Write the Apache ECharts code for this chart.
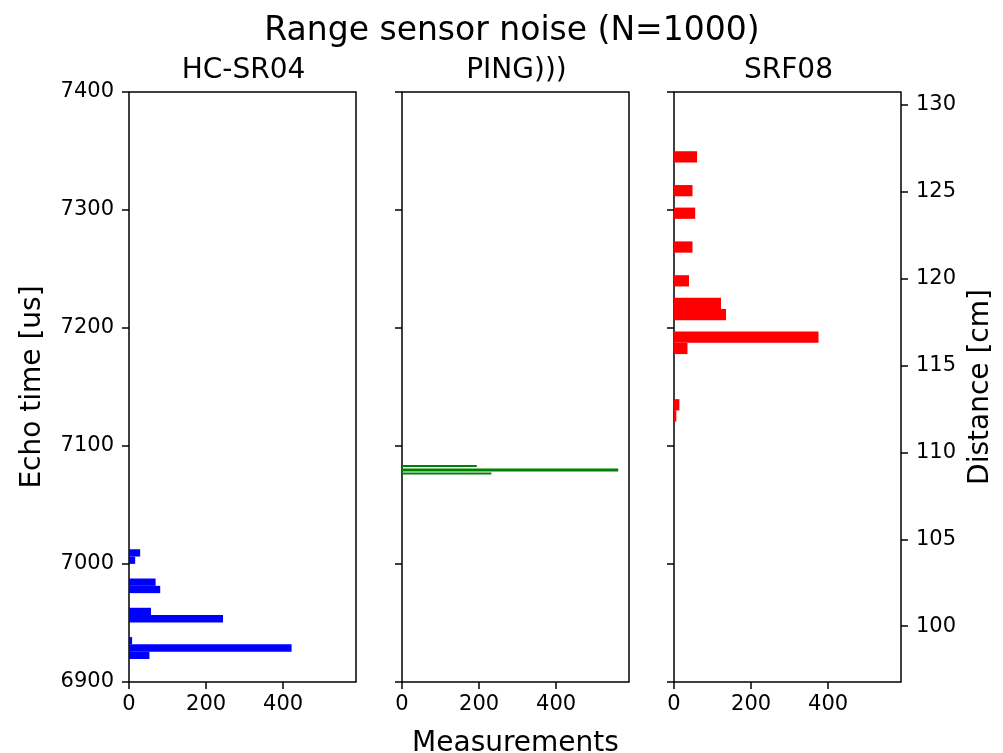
<!DOCTYPE html>
<html>
<head>
<meta charset="utf-8">
<script src="https://cdn.jsdelivr.net/npm/echarts@6/dist/echarts.min.js"></script>
<style>html,body{margin:0;padding:0;background:#fff}#c{width:1003px;height:753px}</style>
</head>
<body>
<div id="c"></div>
<script>
// ---- data ----
const title = 'Range sensor noise (N=1000)';
const panelTitles = ['HC-SR04', 'PING)))', 'SRF08'];
const colors = ['#0000ff', '#008000', '#ff0000'];

// HC-SR04 histogram: bin lower edge, upper edge [us], count
const hcLo = [6919.5, 6925.7, 6931.9, 6950.5, 6956.7, 6975.3, 6981.5, 7000.1, 7006.3];
const hcHi = [6925.7, 6931.9, 6938.1, 6956.7, 6962.9, 6981.5, 6987.7, 7006.3, 7012.5];
const hcCount = [53, 422, 8, 244, 57, 81, 69, 16, 29];

// PING))) histogram
const pingLo = [7075.8, 7078.4, 7082.2];
const pingHi = [7077.5, 7080.9, 7083.9];
const pingCount = [232, 561, 194];

// SRF08 histogram
const srfLo = [7120.6, 7130.15, 7177.9, 7187.45, 7206.55, 7216.1, 7235.2, 7263.85, 7292.5, 7311.6, 7340.25];
const srfHi = [7130.15, 7139.7, 7187.45, 7197.0, 7216.1, 7225.65, 7244.75, 7273.4, 7302.05, 7321.15, 7349.8];
const srfCount = [6, 14, 35, 375, 135, 122, 39, 48, 55, 48, 60];

const echoTicks = [6900, 7000, 7100, 7200, 7300, 7400];
const countTicks = [0, 200, 400];
const distTicks = [100, 105, 110, 115, 120, 125, 130];
const echoMin = 6900, echoMax = 7400;
const distMin = 96.79, distMax = 130.74;

// ---- chart ----
const panels = [[hcLo, hcHi, hcCount], [pingLo, pingHi, pingCount], [srfLo, srfHi, srfCount]];
const allCounts = hcCount.concat(pingCount, srfCount);
const xMax = Math.max.apply(null, allCounts) * 1.05;

const FONT = 'DejaVu Sans';
const lefts = [129, 402, 674];
const W = 227, TOP = 92, H = 590;

const grids = lefts.map(l => ({left: l, top: TOP, width: W, height: H, show: true,
  borderColor: '#000', borderWidth: 1.5, backgroundColor: 'transparent',
  containLabel: false, outerBoundsMode: 'none'}));

const plain = v => String(v);

const xAxes = lefts.map((l, i) => ({
  type: 'value', gridIndex: i, min: 0, max: xMax,
  axisLine: {show: false},
  axisTick: {show: true, length: 7, inside: false, customValues: countTicks, lineStyle: {color: '#000', width: 1.5}},
  axisLabel: {show: true, customValues: countTicks, formatter: plain, margin: 12, color: '#000', fontFamily: FONT, fontSize: 21},
  splitLine: {show: false},
  name: i === 1 ? 'Measurements' : '', nameLocation: 'middle', nameGap: 48,
  nameTextStyle: {fontFamily: FONT, fontSize: 28, color: '#000'}
}));

const yAxes = lefts.map((l, i) => ({
  type: 'value', gridIndex: i, min: echoMin, max: echoMax, position: 'left',
  axisLine: {show: false},
  axisTick: {show: true, length: 7, customValues: echoTicks, lineStyle: {color: '#000', width: 1.5}},
  axisLabel: {show: i === 0, customValues: echoTicks, formatter: plain, margin: 15, color: '#000', fontFamily: FONT, fontSize: 21},
  splitLine: {show: false},
  name: i === 0 ? 'Echo time [us]' : '', nameLocation: 'middle', nameGap: 82, nameRotate: 90,
  nameTextStyle: {fontFamily: FONT, fontSize: 28, color: '#000'}
}));
yAxes.push({
  type: 'value', gridIndex: 2, min: distMin, max: distMax, position: 'right',
  axisLine: {show: false},
  axisTick: {show: true, length: 7, customValues: distTicks, lineStyle: {color: '#000', width: 1.5}},
  axisLabel: {show: true, customValues: distTicks, formatter: plain, margin: 15, color: '#000', fontFamily: FONT, fontSize: 21},
  splitLine: {show: false},
  name: 'Distance [cm]', nameLocation: 'middle', nameGap: 66, nameRotate: 90,
  nameTextStyle: {fontFamily: FONT, fontSize: 28, color: '#000'}
});

function renderBar(params, api) {
  const lo = api.value(0), hi = api.value(1), c = api.value(2);
  const p0 = api.coord([0, lo]);
  const p1 = api.coord([c, hi]);
  return {type: 'rect',
    shape: {x: p0[0], y: p1[1], width: p1[0] - p0[0], height: p0[1] - p1[1]},
    style: api.style()};
}

const series = panels.map((p, i) => ({
  type: 'custom', xAxisIndex: i, yAxisIndex: i,
  renderItem: renderBar,
  encode: {x: 2, y: [0, 1]},
  itemStyle: {color: colors[i]},
  data: p[0].map((lo, k) => [lo, p[1][k], p[2][k]]),
  clip: true, silent: true, animation: false
}));

const titles = [{text: title, left: 507, top: 10, textAlign: 'center',
  textStyle: {fontFamily: FONT, fontSize: 33, fontWeight: 'normal', color: '#000'}}];
panelTitles.forEach((t, i) => titles.push({text: t, left: lefts[i] + W / 2 - 4, top: 52, textAlign: 'center',
  textStyle: {fontFamily: FONT, fontSize: 28, fontWeight: 'normal', color: '#000'}}));

const chart = echarts.init(document.getElementById('c'), null, {renderer: 'canvas'});
chart.setOption({
  backgroundColor: '#fff',
  animation: false,
  title: titles,
  grid: grids,
  xAxis: xAxes,
  yAxis: yAxes,
  series: series
});
</script>
</body>
</html>
